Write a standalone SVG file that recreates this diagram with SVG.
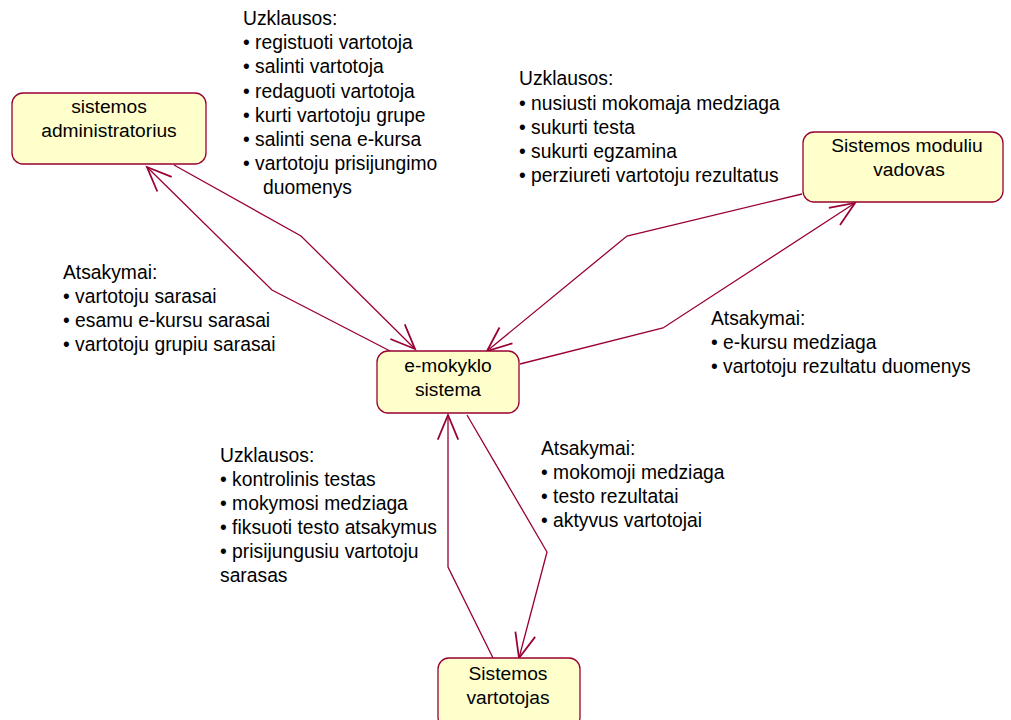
<svg xmlns="http://www.w3.org/2000/svg" width="1011" height="720" viewBox="0 0 1011 720">
<style>
.box{fill:#ffffcc;stroke:#990033;stroke-width:1.3}
.nt{font-family:"Liberation Sans",Arial,sans-serif;font-size:19.2px;fill:#000;text-anchor:middle}
.lt{font-family:"Liberation Sans",Arial,sans-serif;font-size:19.3px;fill:#000}
.c{fill:none;stroke:#990033;stroke-width:1.3;marker-end:url(#arr)}
</style>
<defs>
<marker id="arr" markerUnits="userSpaceOnUse" markerWidth="30" markerHeight="30" refX="0" refY="0" viewBox="-20 -10 22 20" orient="auto" overflow="visible">
<path d="M-18,-7.5 L0,0 L-18,7.5" fill="none" stroke="#990033" stroke-width="1.3"/>
</marker>
</defs>
<rect width="1011" height="720" fill="#ffffff"/>
<g id="connectors">
<polyline class="c" points="174,165 301,236 415,349"/>
<polyline class="c" points="392,352 272,290 147,167"/>
<polyline class="c" points="802,194 627,236 487,351"/>
<polyline class="c" points="520,364 663,328 855,203"/>
<polyline class="c" points="493,658 448,567 448,415"/>
<polyline class="c" points="467,415 547,552 519,658"/>
</g>
<g id="admin">
<rect class="box" x="12" y="93" width="194" height="71" rx="11"/>
<text class="nt" x="109" y="113">sistemos</text>
<text class="nt" x="109" y="137">administratorius</text>
</g>
<g id="emokyklo">
<rect class="box" x="377" y="351" width="142" height="62" rx="11"/>
<text class="nt" x="448" y="372">e-mokyklo</text>
<text class="nt" x="448" y="396">sistema</text>
</g>
<g id="vadovas">
<rect class="box" x="803" y="132" width="200" height="70" rx="11"/>
<text class="nt" x="907" y="152">Sistemos moduliu</text>
<text class="nt" x="909" y="176">vadovas</text>
</g>
<g id="vartotojas">
<rect class="box" x="438" y="658" width="142" height="70" rx="11"/>
<text class="nt" x="508" y="680">Sistemos</text>
<text class="nt" x="508" y="704">vartotojas</text>
</g>
<g id="labels">
<text class="lt" x="243" y="25">Uzklausos:</text>
<text class="lt" x="243" y="49">• registuoti vartotoja</text>
<text class="lt" x="243" y="73.4">• salinti vartotoja</text>
<text class="lt" x="243" y="97.6">• redaguoti vartotoja</text>
<text class="lt" x="243" y="121.8">• kurti vartotoju grupe</text>
<text class="lt" x="243" y="146">• salinti sena e-kursa</text>
<text class="lt" x="243" y="170.2">• vartotoju prisijungimo</text>
<text class="lt" x="263" y="194.4">duomenys</text>

<text class="lt" x="519" y="85">Uzklausos:</text>
<text class="lt" x="519" y="109.5">• nusiusti mokomaja medziaga</text>
<text class="lt" x="519" y="133.8">• sukurti testa</text>
<text class="lt" x="519" y="158">• sukurti egzamina</text>
<text class="lt" x="519" y="182.2">• perziureti vartotoju rezultatus</text>

<text class="lt" x="63" y="279">Atsakymai:</text>
<text class="lt" x="63" y="303">• vartotoju sarasai</text>
<text class="lt" x="63" y="327">• esamu e-kursu sarasai</text>
<text class="lt" x="63" y="351">• vartotoju grupiu sarasai</text>

<text class="lt" x="711" y="325">Atsakymai:</text>
<text class="lt" x="711" y="349">• e-kursu medziaga</text>
<text class="lt" x="711" y="373">• vartotoju rezultatu duomenys</text>

<text class="lt" x="220" y="462">Uzklausos:</text>
<text class="lt" x="220" y="486">• kontrolinis testas</text>
<text class="lt" x="220" y="510">• mokymosi medziaga</text>
<text class="lt" x="220" y="534">• fiksuoti testo atsakymus</text>
<text class="lt" x="220" y="558">• prisijungusiu vartotoju</text>
<text class="lt" x="220" y="582">sarasas</text>

<text class="lt" x="541" y="455">Atsakymai:</text>
<text class="lt" x="541" y="479">• mokomoji medziaga</text>
<text class="lt" x="541" y="503">• testo rezultatai</text>
<text class="lt" x="541" y="527">• aktyvus vartotojai</text>
</g>
</svg>
